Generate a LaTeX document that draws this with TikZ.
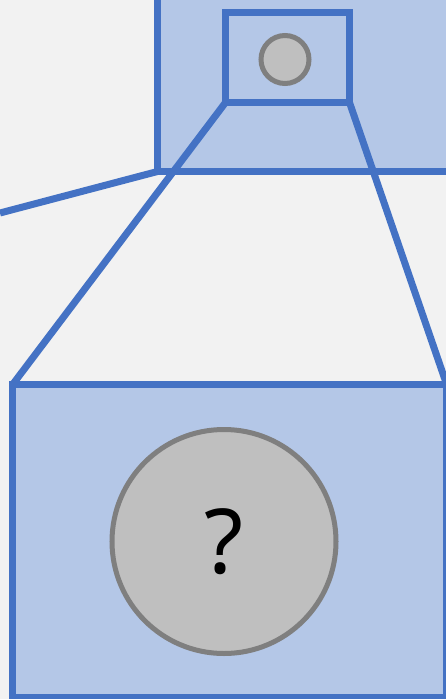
\documentclass[tikz,border=0pt]{standalone}
\usepackage{fontspec}
\setmainfont{Noto Sans}
\usepackage{xcolor}
\usepackage{tikz}

\definecolor{paper}{HTML}{F2F2F2}
\definecolor{frameblue}{HTML}{4472C4}
\definecolor{fillblue}{HTML}{B4C7E7}
\definecolor{dotgray}{HTML}{BFBFBF}
\definecolor{rimgray}{HTML}{7F7F7F}

\begin{document}
\begin{tikzpicture}[x=1bp,y=-1bp,
  panel/.style={draw=frameblue,fill=fillblue,line width=7bp,rectangle,inner sep=0pt,outer sep=0pt},
  dot/.style={draw=rimgray,fill=dotgray,line width=5bp,circle,inner sep=0pt,outer sep=0pt},
  ray/.style={draw=frameblue,line width=7bp}]
  \useasboundingbox (0,0) rectangle (446,699);
  \clip (0,0) rectangle (446,699);
  \fill[paper] (0,0) rectangle (446,699);

  % Overview panel with the magnified window
  \node[panel,minimum width=310bp,minimum height=190bp] (overview) at (312.5,76.5) {};
  \node[panel,minimum width=124bp,minimum height=90bp] (window) at (287.5,57.5) {};
  \node[dot,minimum size=48bp] (marker) at (285,59.5) {};

  \coordinate (edge) at (0,213);
  \draw[ray] (edge) -- (overview.south west);

  % Rays down to the detail panel
  \draw[ray] (window.south west) -- (13,384) coordinate (dl);
  \draw[ray] (window.south east) -- (446.5,384) coordinate (dr);

  % Detail panel
  \node[panel,minimum width=433.5bp,minimum height=313.5bp] (detail) at (229.75,540.75) {};
  \node[dot,minimum size=224bp,font=\fontsize{90}{90}\selectfont] (unknown) at (224,541.5) {?};
\end{tikzpicture}
\end{document}
